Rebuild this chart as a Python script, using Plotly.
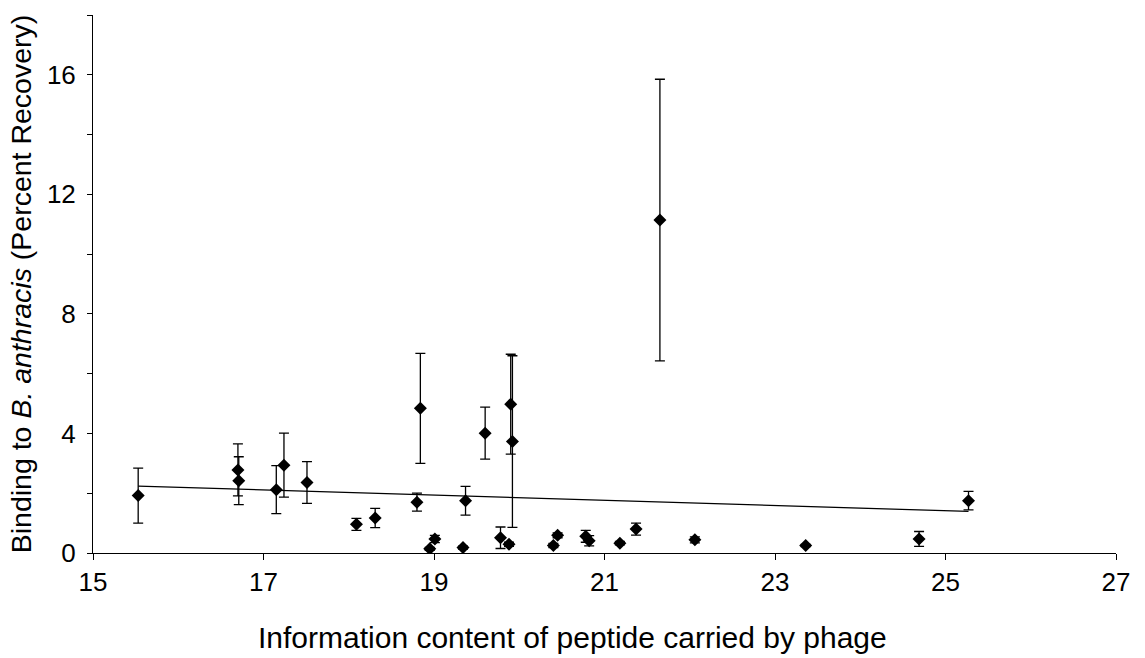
import plotly.graph_objects as go

# Data
info_content = [15.53, 16.70, 16.71, 17.15, 17.24, 17.51, 18.09, 18.31,
                18.80, 18.84, 18.95, 19.01, 19.34, 19.37, 19.60, 19.78,
                19.88, 19.90, 19.92, 20.40, 20.45, 20.78, 20.82, 21.18,
                21.37, 21.65, 22.06, 23.36, 24.69, 25.27]
binding = [1.92, 2.78, 2.42, 2.12, 2.94, 2.36, 0.96, 1.17,
           1.70, 4.84, 0.14, 0.47, 0.18, 1.75, 4.01, 0.51,
           0.29, 4.98, 3.73, 0.25, 0.59, 0.56, 0.41, 0.33,
           0.80, 11.14, 0.44, 0.25, 0.47, 1.75]
binding_err = [0.92, 0.87, 0.80, 0.80, 1.07, 0.70, 0.20, 0.32,
               0.30, 1.84, 0.05, 0.12, 0.05, 0.48, 0.87, 0.36,
               0.07, 1.67, 2.87, 0.07, 0.08, 0.20, 0.17, 0.06,
               0.20, 4.71, 0.10, 0.04, 0.25, 0.31]

# Linear trend line (as drawn in the reference)
trend_x = [15.53, 25.27]
trend_y = [2.24, 1.39]

x_ticks = [15, 17, 19, 21, 23, 25, 27]
y_ticks = [0, 4, 8, 12, 16]

font_family = "Liberation Sans, Arial, sans-serif"

W, H = 1145, 658
ML, MR, MT, MB = 93, 29, 15, 105
plot_w = W - ML - MR
plot_h = H - MT - MB

fig = go.Figure()

fig.add_trace(go.Scatter(
    x=trend_x, y=trend_y, mode="lines",
    line=dict(color="black", width=1.3),
    showlegend=False, hoverinfo="skip",
))

fig.add_trace(go.Scatter(
    x=info_content, y=binding, mode="markers",
    marker=dict(symbol="diamond", size=10, color="black"),
    error_y=dict(type="data", array=binding_err, visible=True,
                 color="black", thickness=1.3, width=5),
    showlegend=False,
))

# x-axis title centred on the whole figure, as in the reference
fig.add_annotation(
    text="Information content of peptide carried by phage",
    xref="paper", yref="paper",
    x=(W / 2 - ML) / plot_w, y=-(637 - (MT + plot_h)) / plot_h,
    xanchor="center", yanchor="middle", showarrow=False,
    font=dict(family=font_family, size=30, color="black"),
)

fig.update_layout(
    width=W, height=H,
    margin=dict(l=ML, r=MR, t=MT, b=MB),
    paper_bgcolor="white", plot_bgcolor="white",
    font=dict(family=font_family, size=26, color="black"),
    xaxis=dict(
        range=[15, 27], tickvals=x_ticks, ticktext=[str(v) for v in x_ticks],
        showgrid=False, zeroline=False, showline=True,
        linecolor="black", linewidth=1,
        ticks="outside", ticklen=6, tickcolor="black",
        tickfont=dict(size=26),
    ),
    yaxis=dict(
        range=[0, 18], tickvals=y_ticks, ticktext=[str(v) for v in y_ticks],
        showgrid=False, zeroline=False, showline=True,
        linecolor="black", linewidth=1,
        ticks="outside", ticklen=5, tickcolor="black",
        ticklabelstandoff=6,
        minor=dict(tickvals=[2, 6, 10, 14, 18], ticks="outside", ticklen=5,
                   tickcolor="black", showgrid=False),
        tickfont=dict(size=26),
        title=dict(text="Binding to <i>B. anthracis</i> (Percent Recovery)",
                   font=dict(size=28.5), standoff=6),
    ),
)

fig.write_html("out.html")
